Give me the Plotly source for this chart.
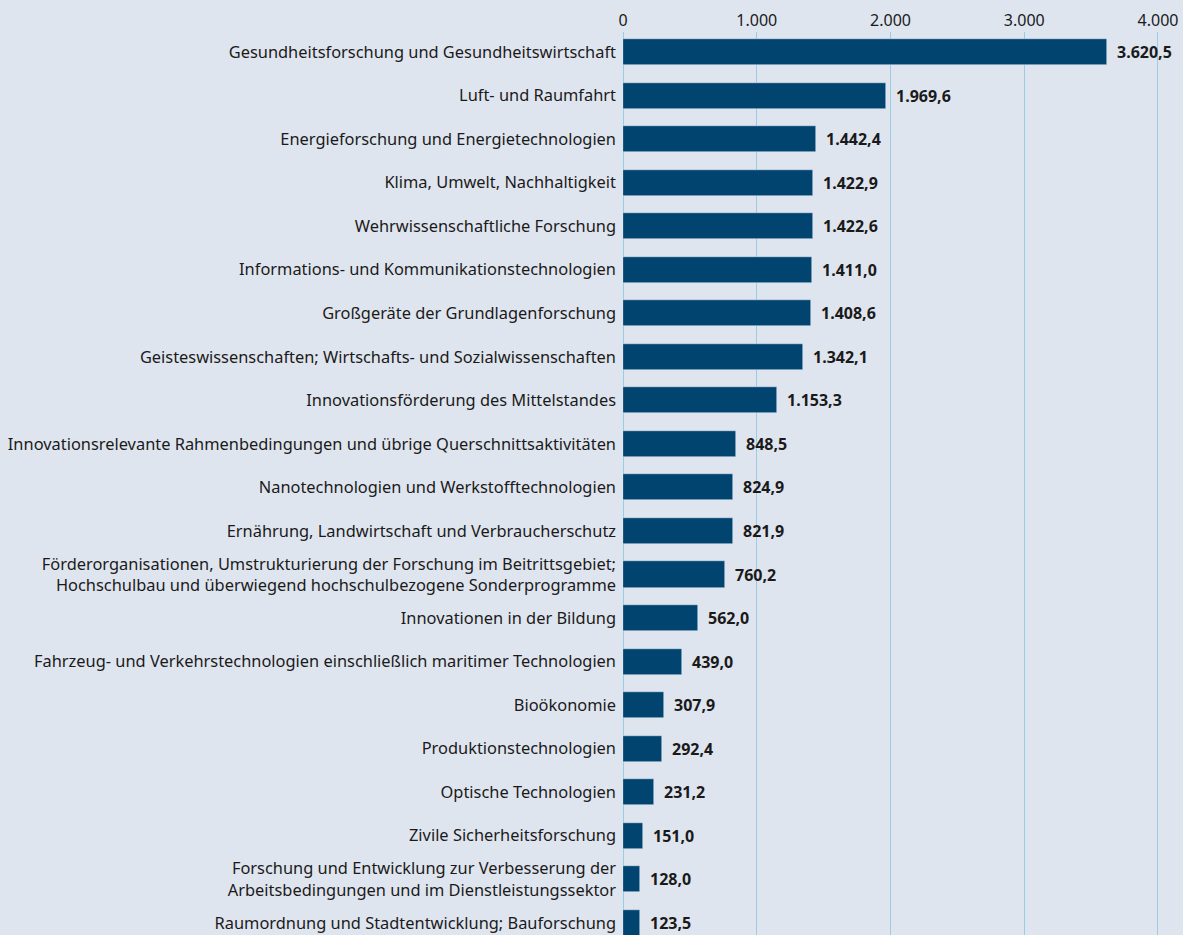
import plotly.graph_objects as go

# Ausgaben nach Förderbereichen (Mio. Euro)
categories = [
    "Gesundheitsforschung und Gesundheitswirtschaft",
    "Luft- und Raumfahrt",
    "Energieforschung und Energietechnologien",
    "Klima, Umwelt, Nachhaltigkeit",
    "Wehrwissenschaftliche Forschung",
    "Informations- und Kommunikationstechnologien",
    "Großgeräte der Grundlagenforschung",
    "Geisteswissenschaften; Wirtschafts- und Sozialwissenschaften",
    "Innovationsförderung des Mittelstandes",
    "Innovationsrelevante Rahmenbedingungen und übrige Querschnittsaktivitäten",
    "Nanotechnologien und Werkstofftechnologien",
    "Ernährung, Landwirtschaft und Verbraucherschutz",
    "Förderorganisationen, Umstrukturierung der Forschung im Beitrittsgebiet;<br>Hochschulbau und überwiegend hochschulbezogene Sonderprogramme",
    "Innovationen in der Bildung",
    "Fahrzeug- und Verkehrstechnologien einschließlich maritimer Technologien",
    "Bioökonomie",
    "Produktionstechnologien",
    "Optische Technologien",
    "Zivile Sicherheitsforschung",
    "Forschung und Entwicklung zur Verbesserung der<br>Arbeitsbedingungen und im Dienstleistungssektor",
    "Raumordnung und Stadtentwicklung; Bauforschung",
]
values = [3620.5, 1969.6, 1442.4, 1422.9, 1422.6, 1411.0, 1408.6, 1342.1, 1153.3,
          848.5, 824.9, 821.9, 760.2, 562.0, 439.0, 307.9, 292.4, 231.2, 151.0,
          128.0, 123.5]
tick_vals = [0, 1000, 2000, 3000, 4000]


def de_num(v):
    # 3620.5 -> "3.620,5"
    s = f"{v:,.1f}"
    return s.replace(",", "X").replace(".", ",").replace("X", ".")


pos = list(range(len(categories)))

fig = go.Figure(go.Bar(
    x=values, y=pos, orientation="h",
    marker_color="#00446f", width=0.6,
    hoverinfo="skip",
))

for p, v in zip(pos, values):
    fig.add_annotation(x=v, y=p, text="<b>" + de_num(v) + "</b>",
                       showarrow=False, xanchor="left", xshift=8,
                       font=dict(size=16, color="#1a1a1a"))

fig.update_layout(
    width=1183, height=935,
    margin=dict(l=623, r=0, t=32, b=0, autoexpand=False),
    paper_bgcolor="#dfe5ef", plot_bgcolor="#dfe5ef",
    font=dict(family="Noto Sans", size=16.4, color="#1a1a1a"),
    separators=",.",
    showlegend=False,
    bargap=0,
)
fig.update_xaxes(
    side="top", range=[0, 4187], tickvals=tick_vals, tickformat=",d",
    showgrid=True, gridcolor="#9ccbe4", gridwidth=1,
    zeroline=True, zerolinecolor="#9ccbe4", zerolinewidth=1,
    showline=False, ticks="", tickfont=dict(size=16), automargin=False,
    ticklabelstandoff=2,
)
fig.update_yaxes(
    range=[len(categories) - 1 + 0.28, -0.46],
    tickvals=pos, ticktext=categories,
    showgrid=False, zeroline=False, showline=False, ticks="",
    ticklabelstandoff=6, automargin=False,
)

fig.write_html("out.html", config={"displayModeBar": False},
               post_script="document.body.style.margin='0';")
